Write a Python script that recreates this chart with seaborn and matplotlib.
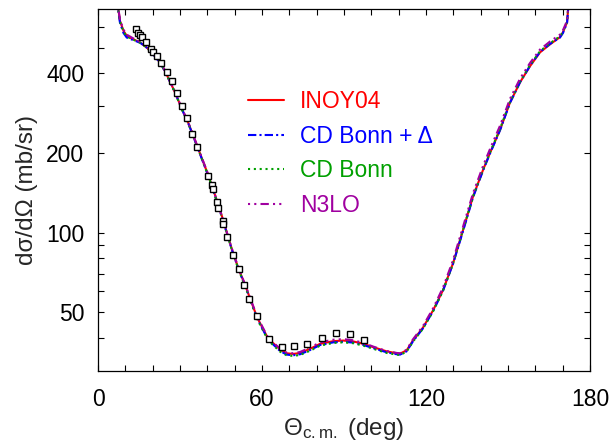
import matplotlib
matplotlib.use("Agg")
import matplotlib.pyplot as plt
import matplotlib.ticker as mticker
import seaborn as sns
import numpy as np

theta_th = [6.8, 7.4, 8.0, 9.3, 10.5, 12.9, 15.4, 17.8, 20.2, 22.7, 24.5, 28.2, 30.6, 33.0,
            36.3, 40.4, 43.6, 45.6, 47.5, 48.9, 51.2, 54.5, 58.2, 62.2, 66.6, 69.0, 71.4,
            73.9, 77.6, 81.2, 86.1, 89.7, 93.4, 97.1, 100.7, 105.6, 109.3, 110.5, 112.9,
            115.2, 118.9, 122.6, 126.2, 129.9, 133.5, 137.2, 140.9, 143.4, 147.1, 150.7,
            154.4, 158.0, 161.7, 165.4, 169.0, 170.1, 171.6, 172.0, 172.6]

inoy04 = [1000, 700, 632, 579, 554, 538, 523, 501, 472, 439, 408, 338, 294, 260,
          212, 164, 131, 113, 97, 87, 74, 60.6, 47.8, 39.8, 36.2, 35.0, 34.8,
          35.1, 36.4, 38.0, 38.9, 39.1, 38.8, 38.0, 36.9, 35.6, 35.0, 34.9, 35.9,
          39.1, 43.8, 50.9, 60.6, 76.7, 102, 137, 173, 200, 245, 310,
          370, 425, 480, 515, 548, 572, 624, 700, 1000]

cdbonn_delta = [1000, 690, 622, 568, 546, 534, 522, 500, 471, 438, 407, 338, 294, 259,
                211, 163, 130, 112, 96.5, 86.5, 73.6, 60.2, 47.4, 39.4, 35.7, 34.6, 34.4,
                34.7, 36.0, 37.6, 38.5, 38.7, 38.4, 37.6, 36.6, 35.3, 34.7, 34.6, 35.6,
                38.8, 43.5, 50.6, 60.3, 76.4, 101, 136, 172, 199, 244, 309,
                370, 426, 482, 517, 546, 568, 620, 700, 1000]

cdbonn = [1000, 695, 628, 575, 551, 536, 522, 500, 471, 438, 407, 337, 293, 259,
          211, 163, 130, 112, 96.4, 86.4, 73.5, 60.0, 47.2, 39.2, 35.5, 34.4, 34.2,
          34.5, 35.8, 37.4, 38.3, 38.5, 38.2, 37.4, 36.4, 35.1, 34.6, 34.5, 35.5,
          38.7, 43.4, 50.5, 60.3, 76.6, 102, 137, 174, 201, 247, 312,
          373, 429, 485, 520, 552, 574, 626, 700, 1000]

n3lo = [1000, 705, 640, 585, 560, 542, 526, 503, 474, 441, 410, 340, 296, 261,
        213, 165, 131, 113, 97.3, 87.3, 74.4, 61.0, 48.2, 40.1, 36.4, 35.2, 35.0,
        35.4, 36.8, 38.5, 39.4, 39.6, 39.2, 38.3, 37.1, 35.7, 35.1, 35.0, 36.1,
        39.5, 44.4, 51.8, 62.0, 78.8, 105, 141, 179, 207, 254, 320,
        382, 437, 492, 528, 560, 582, 632, 700, 1000]

# measured cross section
theta_exp = [13.8, 14.6, 15.4, 16.1, 17.6, 19.4, 20.1, 21.6, 23.2, 25.2, 27.0, 29.0,
             30.7, 32.7, 34.5, 36.3, 40.4, 41.6, 42.2, 43.4, 44.0, 45.6, 45.8, 47.3,
             49.5, 51.5, 53.3, 55.4, 58.1, 62.4, 67.2, 71.8, 76.6, 81.8, 87.0, 92.2, 97.4]
xs_exp = [588, 568, 556, 550, 524, 494, 482, 466, 436, 405, 374, 337,
          300, 270, 236, 210, 164, 152, 146, 130, 124, 111, 108, 96.5,
          82.5, 73, 63.6, 56.2, 48.4, 39.7, 36.9, 37.2, 37.8, 40.1, 41.7, 41.4, 39.2]
xs_err = [14, 14, 13, 13, 12, 12, 11, 11, 10, 9, 9, 8,
          7, 6, 6, 5, 4, 4, 3.5, 3, 3, 2.7, 2.6, 2.3,
          2.0, 1.8, 1.6, 1.4, 1.2, 1.0, 1.0, 1.0, 1.0, 1.1, 1.1, 1.1, 1.0]

sns.set_style("ticks")
plt.rcParams["font.family"] = ["Liberation Sans", "DejaVu Sans"]
plt.rcParams["mathtext.fontset"] = "custom"
plt.rcParams["mathtext.rm"] = "Liberation Sans"
plt.rcParams["mathtext.it"] = "Liberation Sans:italic"

FS = 16.5      # ticks and legend
FS_LAB = 17.5  # axis titles

fig = plt.figure(figsize=(6.13, 4.44), dpi=100)
ax = fig.add_axes([0.160, 0.1644, 0.8025, 0.8153])

models = [
    ("INOY04", inoy04, "#ff0000", "-"),
    ("CD Bonn + \u0394", cdbonn_delta, "#0000ff", (0, (4, 1.5, 1, 1.5))),
    ("CD Bonn", cdbonn, "#00a000", (0, (1, 1.8))),
    ("N3LO", n3lo, "#a000a0", (0, (1, 2, 1, 2, 4, 2))),
]
for label, vals, col, ls in models:
    sns.lineplot(x=theta_th, y=vals, ax=ax, color=col, linestyle=ls, lw=1.5,
                 label=label, sort=False)

ax.errorbar(theta_exp, xs_exp, yerr=xs_err, fmt="s", ms=4.8, mfc="white",
            mec="black", mew=1.0, ecolor="black", elinewidth=0.8, capsize=0, zorder=5)

ax.set_yscale("log")
ax.set_xlim(0, 180)
ax.set_ylim(30, 700)
ax.xaxis.set_major_locator(mticker.FixedLocator([0, 60, 120, 180]))
ax.xaxis.set_minor_locator(mticker.MultipleLocator(10))
ax.yaxis.set_major_locator(mticker.FixedLocator([50, 100, 200, 400]))
ax.yaxis.set_minor_locator(mticker.FixedLocator([40, 60, 70, 80, 90, 300, 500, 600]))
ax.yaxis.set_major_formatter(mticker.FormatStrFormatter("%d"))
ax.yaxis.set_minor_formatter(mticker.NullFormatter())
ax.tick_params(which="both", direction="in", top=True, right=True, length=4.5,
               width=0.8, labelsize=FS, colors="black")
ax.tick_params(axis="x", pad=12)
ax.tick_params(axis="y", pad=10)
for s in ax.spines.values():
    s.set_visible(True)
    s.set_linewidth(0.9)
    s.set_color("black")

ax.set_xlabel(r"$\Theta_{\rm c.m.}$ (deg)", fontsize=FS_LAB, labelpad=4)
ax.set_ylabel("d\u03c3/d\u03a9 (mb/sr)", fontsize=FS_LAB, labelpad=6)

handles, labels = ax.get_legend_handles_labels()
leg_kw = dict(frameon=False, fontsize=FS, labelcolor="linecolor", handlelength=1.57,
              handletextpad=0.7, labelspacing=0.5, borderpad=0, borderaxespad=0)
leg1 = ax.legend(handles[:3], labels[:3], loc="upper left",
                 bbox_to_anchor=(0.305, 0.776), **leg_kw)
ax.add_artist(leg1)
ax.legend(handles[3:], labels[3:], loc="upper left",
          bbox_to_anchor=(0.305, 0.489), **leg_kw)

fig.savefig("out.png", dpi=100, facecolor="white")
